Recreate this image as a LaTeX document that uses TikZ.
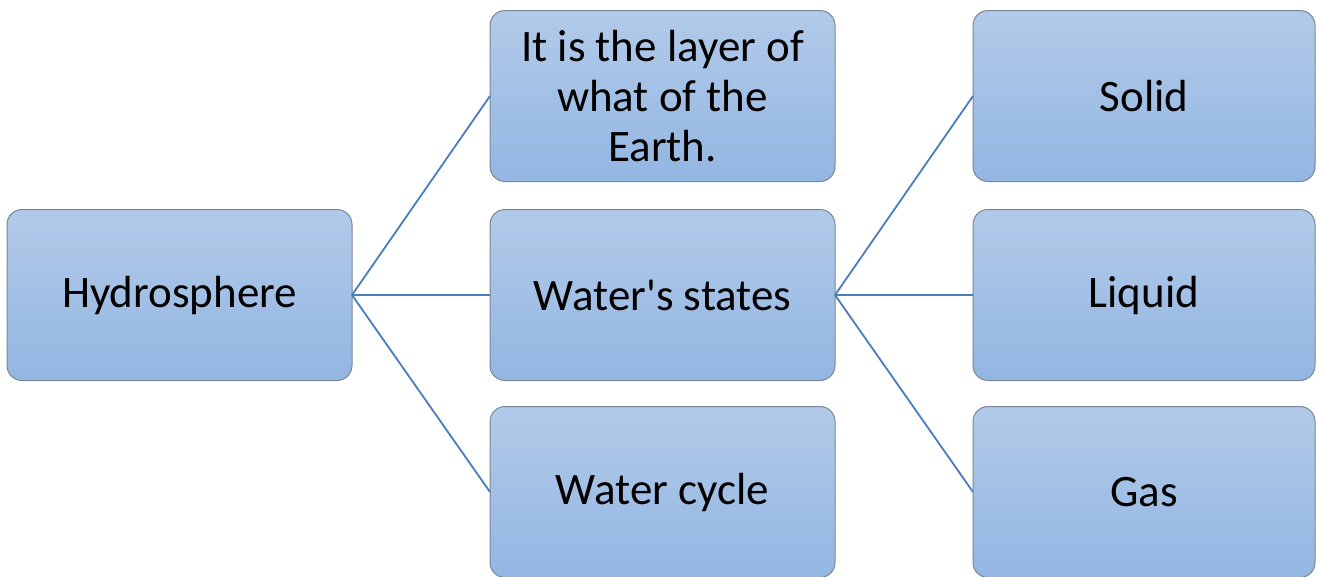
\documentclass[tikz,border=0pt]{standalone}
\usepackage{fontspec}
\setmainfont{Carlito}[Ligatures=TeXOff]
\begin{document}
\begin{tikzpicture}[x=1pt,y=-1pt,
  box/.style={rectangle, rounded corners=15pt, draw=boxborder, line width=1pt,
    top color=boxtop, bottom color=boxbot, minimum width=345pt, minimum height=171pt,
    inner sep=2pt, outer sep=0pt, align=center, font=\fontsize{45}{50}\selectfont},
  link/.style={draw=linkblue, line width=1.8pt}]
\definecolor{boxtop}{HTML}{B2CAE9}
\definecolor{boxbot}{HTML}{93B6E2}
\definecolor{boxborder}{HTML}{7A8796}
\definecolor{linkblue}{HTML}{4A7EBB}
\useasboundingbox (0,0) rectangle (1317,576);
\node[box] (hydro) at (179.5,295) {Hydrosphere};
\node[box] (layer) at (662.5,96) {It is the layer of\\what of the\\Earth.};
\node[box] (states) at (662.5,295) {Water's states};
\node[box] (cycle) at (662.5,492) {Water cycle};
\node[box, minimum width=342pt] (solid) at (1144,96) {Solid};
\node[box, minimum width=342pt] (liquid) at (1144,295) {Liquid};
\node[box, minimum width=342pt] (gas) at (1144,492) {Gas};
\draw[link] (hydro.east) -- (layer.west);
\draw[link] (hydro.east) -- (states.west);
\draw[link] (hydro.east) -- (cycle.west);
\draw[link] (states.east) -- (solid.west);
\draw[link] (states.east) -- (liquid.west);
\draw[link] (states.east) -- (gas.west);
\end{tikzpicture}
\end{document}
